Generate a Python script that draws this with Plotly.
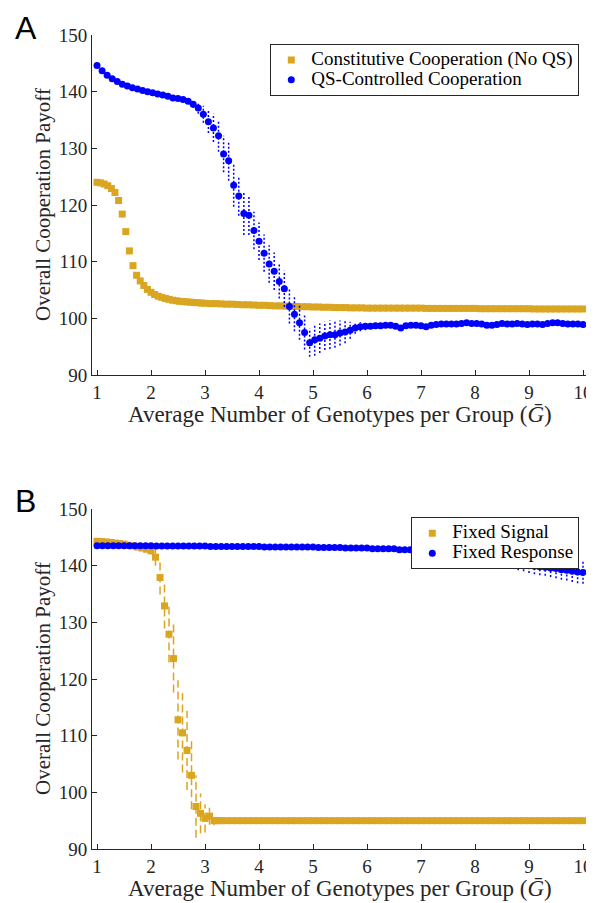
import plotly.graph_objects as go

# ---------------- DATA ----------------
# Panel A: Constitutive Cooperation (No QS)
const_x = [1.000, 1.067, 1.133, 1.200, 1.267, 1.333, 1.400, 1.467, 1.533, 1.600,
           1.667, 1.733, 1.800, 1.867, 1.933, 2.000, 2.067, 2.133, 2.200, 2.267,
           2.333, 2.400, 2.467, 2.533, 2.600, 2.667, 2.733, 2.800, 2.867, 2.933,
           3.000, 3.1, 3.2, 3.3, 3.4, 3.5, 3.6, 3.7, 3.8, 3.9,
           4.0, 4.1, 4.2, 4.3, 4.4, 4.5, 4.6, 4.7, 4.8, 4.9,
           5.0, 5.1, 5.2, 5.3, 5.4, 5.5, 5.6, 5.7, 5.8, 5.9,
           6.0, 6.1, 6.2, 6.3, 6.4, 6.5, 6.6, 6.7, 6.8, 6.9,
           7.0, 7.1, 7.2, 7.3, 7.4, 7.5, 7.6, 7.7, 7.8, 7.9,
           8.0, 8.1, 8.2, 8.3, 8.4, 8.5, 8.6, 8.7, 8.8, 8.9,
           9.0, 9.1, 9.2, 9.3, 9.4, 9.5, 9.6, 9.7, 9.8, 9.9, 10.0]
const_y = [124.0, 123.9, 123.7, 123.4, 122.9, 122.2, 120.8, 118.4, 115.3, 111.9,
           109.3, 107.6, 106.6, 105.8, 105.1, 104.6, 104.2, 103.9, 103.7, 103.5,
           103.35, 103.2, 103.1, 103.0, 102.95, 102.9, 102.85, 102.8, 102.75, 102.7,
           102.65, 102.6, 102.6, 102.55, 102.5, 102.5, 102.45, 102.4, 102.4, 102.35,
           102.3, 102.3, 102.25, 102.2, 102.2, 102.15, 102.1, 102.1, 102.05, 102.05,
           102.0, 102.0, 101.95, 101.95, 101.9, 101.9, 101.9, 101.85, 101.85, 101.85,
           101.8, 101.8, 101.8, 101.8, 101.8, 101.8, 101.8, 101.8, 101.8, 101.8,
           101.8, 101.75, 101.75, 101.75, 101.75, 101.75, 101.75, 101.75, 101.75, 101.75,
           101.75, 101.7, 101.7, 101.7, 101.7, 101.7, 101.7, 101.7, 101.7, 101.7,
           101.7, 101.65, 101.65, 101.65, 101.65, 101.65, 101.65, 101.65, 101.65, 101.65, 101.65]

# Panel A: QS-Controlled Cooperation
qs_x = [1.000, 1.094, 1.188, 1.281, 1.375, 1.469, 1.563, 1.656, 1.750, 1.844,
        1.938, 2.031, 2.125, 2.219, 2.313, 2.406, 2.500, 2.594, 2.688, 2.781,
        2.875, 2.969, 3.063, 3.156, 3.250, 3.344, 3.438, 3.531, 3.625, 3.719,
        3.813, 3.906, 4.000, 4.094, 4.188, 4.281, 4.375, 4.469, 4.563, 4.656,
        4.750, 4.844, 4.938, 5.031, 5.125, 5.219, 5.313, 5.406, 5.500, 5.594,
        5.688, 5.781, 5.875, 5.969, 6.063, 6.156, 6.250, 6.344, 6.438, 6.531,
        6.625, 6.719, 6.813, 6.906, 7.000, 7.094, 7.188, 7.281, 7.375, 7.469,
        7.563, 7.656, 7.750, 7.844, 7.938, 8.031, 8.125, 8.219, 8.313, 8.406,
        8.500, 8.594, 8.688, 8.781, 8.875, 8.969, 9.063, 9.156, 9.250, 9.344,
        9.438, 9.531, 9.625, 9.719, 9.813, 9.906, 10.000]
qs_y = [144.6, 143.7, 142.9, 142.3, 141.8, 141.3, 141.0, 140.7, 140.45, 140.2,
        140.0, 139.8, 139.6, 139.4, 139.2, 138.9, 138.8, 138.6, 138.3, 137.8,
        137.1, 136.0, 134.7, 133.6, 132.2, 129.0, 127.8, 123.5, 121.6, 118.5,
        118.2, 115.5, 113.6, 111.5, 109.6, 108.3, 106.5, 105.2, 102.1, 100.7,
        99.2, 97.5, 95.7, 96.2, 96.5, 96.9, 97.1, 97.1, 97.4, 97.6,
        97.9, 98.3, 98.5, 98.6, 98.6, 98.7, 98.7, 98.8, 98.8, 98.6,
        98.3, 98.7, 98.8, 98.8, 98.7, 98.5, 98.8, 98.9, 99.0, 99.0,
        99.0, 99.0, 99.1, 99.2, 99.1, 99.1, 99.0, 98.8, 98.8, 98.9,
        99.1, 99.0, 99.0, 99.1, 99.0, 98.9, 99.0, 99.0, 98.9, 99.1,
        99.2, 99.2, 99.1, 99.0, 99.0, 99.0, 98.9]
qs_err = [0.2, 0.2, 0.2, 0.2, 0.2, 0.2, 0.2, 0.2, 0.2, 0.2,
          0.2, 0.2, 0.2, 0.2, 0.2, 0.2, 0.2, 0.3, 0.4, 0.7,
          1.0, 1.5, 2.0, 2.5, 2.8, 3.2, 3.5, 3.8, 3.5, 3.8,
          3.5, 3.3, 3.3, 3.3, 3.3, 3.3, 3.0, 3.2, 3.0, 3.0,
          3.0, 3.0, 2.5, 2.8, 2.6, 2.5, 2.5, 2.3, 2.2, 2.0,
          1.5, 1.0, 0.8, 0.7, 0.5, 0.5, 0.5, 0.5, 0.5, 0.5,
          0.5, 0.4, 0.4, 0.4, 0.4, 0.4, 0.4, 0.4, 0.4, 0.4,
          0.3, 0.3, 0.3, 0.3, 0.3, 0.3, 0.3, 0.3, 0.3, 0.3,
          0.3, 0.3, 0.3, 0.3, 0.3, 0.3, 0.3, 0.3, 0.3, 0.3,
          0.3, 0.3, 0.3, 0.3, 0.3, 0.3, 0.3]

# Panel B: Fixed Signal
fs_x = [1.000, 1.083, 1.167, 1.250, 1.333, 1.417, 1.500, 1.583, 1.667, 1.750,
        1.833, 1.917, 2.000, 2.083, 2.167, 2.250, 2.333, 2.417, 2.500, 2.583,
        2.667, 2.750, 2.833, 2.917, 3.000, 3.083, 3.167, 3.25, 3.3, 3.4,
        3.5, 3.6, 3.7, 3.8, 3.9, 4.0, 4.1, 4.2, 4.3, 4.4,
        4.5, 4.6, 4.7, 4.8, 4.9, 5.0, 5.1, 5.2, 5.3, 5.4,
        5.5, 5.6, 5.7, 5.8, 5.9, 6.0, 6.1, 6.2, 6.3, 6.4,
        6.5, 6.6, 6.7, 6.8, 6.9, 7.0, 7.1, 7.2, 7.3, 7.4,
        7.5, 7.6, 7.7, 7.8, 7.9, 8.0, 8.1, 8.2, 8.3, 8.4,
        8.5, 8.6, 8.7, 8.8, 8.9, 9.0, 9.1, 9.2, 9.3, 9.4,
        9.5, 9.6, 9.7, 9.8, 9.9, 10.0]
fs_y = [144.3, 144.25, 144.2, 144.1, 144.0, 143.9, 143.8, 143.6, 143.5, 143.3,
        143.1, 142.9, 142.6, 141.5, 137.9, 132.9, 127.9, 123.6, 112.8, 110.5,
        107.4, 103.0, 97.5, 96.3, 95.4, 95.8, 95.0, 95.0, 95.0, 95.0,
        95.0, 95.0, 95.0, 95.0, 95.0, 95.0, 95.0, 95.0, 95.0, 95.0,
        95.0, 95.0, 95.0, 95.0, 95.0, 95.0, 95.0, 95.0, 95.0, 95.0,
        95.0, 95.0, 95.0, 95.0, 95.0, 95.0, 95.0, 95.0, 95.0, 95.0,
        95.0, 95.0, 95.0, 95.0, 95.0, 95.0, 95.0, 95.0, 95.0, 95.0,
        95.0, 95.0, 95.0, 95.0, 95.0, 95.0, 95.0, 95.0, 95.0, 95.0,
        95.0, 95.0, 95.0, 95.0, 95.0, 95.0, 95.0, 95.0, 95.0, 95.0,
        95.0, 95.0, 95.0, 95.0, 95.0, 95.0]
fs_err = [0.3, 0.3, 0.3, 0.3, 0.3, 0.3, 0.3, 0.3, 0.3, 0.3,
          0.3, 0.3, 0.5, 1.5, 3.0, 4.0, 5.0, 6.0, 7.0, 7.0,
          7.0, 6.0, 5.5, 3.5, 2.5, 1.5, 0.8, 0.2, 0.1, 0.1,
          0.1, 0.1, 0.1, 0.1, 0.1, 0.1, 0.1, 0.1, 0.1, 0.1,
          0.1, 0.1, 0.1, 0.1, 0.1, 0.1, 0.1, 0.1, 0.1, 0.1,
          0.1, 0.1, 0.1, 0.1, 0.1, 0.1, 0.1, 0.1, 0.1, 0.1,
          0.1, 0.1, 0.1, 0.1, 0.1, 0.1, 0.1, 0.1, 0.1, 0.1,
          0.1, 0.1, 0.1, 0.1, 0.1, 0.1, 0.1, 0.1, 0.1, 0.1,
          0.1, 0.1, 0.1, 0.1, 0.1, 0.1, 0.1, 0.1, 0.1, 0.1,
          0.1, 0.1, 0.1, 0.1, 0.1, 0.1]

# Panel B: Fixed Response
fr_x = [1.0, 1.1, 1.2, 1.3, 1.4, 1.5, 1.6, 1.7, 1.8, 1.9,
        2.0, 2.1, 2.2, 2.3, 2.4, 2.5, 2.6, 2.7, 2.8, 2.9,
        3.0, 3.1, 3.2, 3.3, 3.4, 3.5, 3.6, 3.7, 3.8, 3.9,
        4.0, 4.1, 4.2, 4.3, 4.4, 4.5, 4.6, 4.7, 4.8, 4.9,
        5.0, 5.1, 5.2, 5.3, 5.4, 5.5, 5.6, 5.7, 5.8, 5.9,
        6.0, 6.1, 6.2, 6.3, 6.4, 6.5, 6.6, 6.7, 6.8, 6.9,
        7.0, 7.1, 7.2, 7.3, 7.4, 7.5, 7.6, 7.7, 7.8, 7.9,
        8.0, 8.1, 8.2, 8.3, 8.4, 8.5, 8.6, 8.7, 8.8, 8.9,
        9.0, 9.1, 9.2, 9.3, 9.4, 9.5, 9.6, 9.7, 9.8, 9.9, 10.0]
fr_y = [143.5, 143.5, 143.5, 143.5, 143.5, 143.5, 143.5, 143.5, 143.5, 143.5,
        143.5, 143.45, 143.45, 143.45, 143.45, 143.45, 143.45, 143.45, 143.45, 143.45,
        143.45, 143.4, 143.4, 143.4, 143.4, 143.4, 143.4, 143.4, 143.4, 143.4,
        143.4, 143.3, 143.3, 143.3, 143.3, 143.3, 143.3, 143.3, 143.3, 143.3,
        143.3, 143.2, 143.2, 143.2, 143.2, 143.2, 143.1, 143.1, 143.1, 143.1,
        143.1, 143.0, 143.0, 143.0, 143.0, 143.0, 142.8, 142.8, 142.8, 142.8,
        142.8, 142.7, 142.6, 142.5, 142.4, 142.3, 142.2, 142.1, 142.0, 141.9,
        141.8, 141.7, 141.5, 141.4, 141.2, 141.0, 140.9, 140.7, 140.4, 140.2,
        140.0, 139.9, 139.8, 139.7, 139.6, 139.5, 139.3, 139.2, 139.0, 138.9, 138.8]
fr_err = [0.15, 0.15, 0.15, 0.15, 0.15, 0.15, 0.15, 0.15, 0.15, 0.15,
          0.15, 0.15, 0.15, 0.15, 0.15, 0.15, 0.15, 0.15, 0.15, 0.15,
          0.15, 0.15, 0.15, 0.15, 0.15, 0.15, 0.15, 0.15, 0.15, 0.15,
          0.15, 0.15, 0.15, 0.15, 0.15, 0.15, 0.15, 0.15, 0.15, 0.15,
          0.2, 0.2, 0.2, 0.2, 0.2, 0.2, 0.2, 0.2, 0.2, 0.2,
          0.3, 0.3, 0.3, 0.3, 0.3, 0.3, 0.3, 0.3, 0.3, 0.3,
          0.4, 0.4, 0.4, 0.4, 0.4, 0.5, 0.5, 0.5, 0.5, 0.5,
          0.6, 0.7, 0.8, 0.8, 0.9, 1.0, 1.0, 1.1, 1.2, 1.2,
          1.3, 1.4, 1.5, 1.5, 1.6, 1.7, 1.8, 1.8, 1.9, 2.0, 2.0]

x_ticks = [1, 2, 3, 4, 5, 6, 7, 8, 9, 10]
y_ticks = [90, 100, 110, 120, 130, 140, 150]
x_title = "Average Number of Genotypes per Group (<i>\u1E20</i>)"
y_title = "Overall Cooperation Payoff"
names = ["Constitutive Cooperation (No QS)", "QS-Controlled Cooperation",
         "Fixed Signal", "Fixed Response"]

# ---------------- STYLE ----------------
OFF = 8                 # page body margin of the browser
W, H = 594 - OFF, 903 - OFF
ORANGE = "#DAA520"
BLUE = "#0000FF"
AX = "#262626"
SERIF = "Liberation Serif"

def px_x(p):
    return (p - OFF) / W

def px_y(p):
    return 1 - (p - OFF) / H

def err_segments(xs, ys, es):
    ex, ey = [], []
    for x, y, e in zip(xs, ys, es):
        ex += [x, x, None]
        ey += [y - e, y + e, None]
    return ex, ey

def lname(s):
    return '<span style="font-size:19px">' + s + '</span>'

fig = go.Figure()

# Panel A
fig.add_trace(go.Scatter(x=const_x, y=const_y, mode="markers", name=lname(names[0]),
                         marker=dict(symbol="square", size=7, color=ORANGE, line=dict(width=0)),
                         xaxis="x", yaxis="y", legend="legend"))
ex, ey = err_segments(qs_x, qs_y, qs_err)
fig.add_trace(go.Scatter(x=ex, y=ey, mode="lines", line=dict(color=BLUE, width=1.5, dash="2px,2px"),
                         showlegend=False, hoverinfo="skip", xaxis="x", yaxis="y"))
fig.add_trace(go.Scatter(x=qs_x, y=qs_y, mode="markers", name=lname(names[1]),
                         marker=dict(symbol="circle", size=7, color=BLUE, line=dict(width=0)),
                         xaxis="x", yaxis="y", legend="legend"))

# Panel B
ex, ey = err_segments(fs_x, fs_y, fs_err)
fig.add_trace(go.Scatter(x=ex, y=ey, mode="lines", line=dict(color=ORANGE, width=1.5, dash="8px,4px"),
                         showlegend=False, hoverinfo="skip", xaxis="x2", yaxis="y2"))
fig.add_trace(go.Scatter(x=fs_x, y=fs_y, mode="markers", name=lname(names[2]),
                         marker=dict(symbol="square", size=7, color=ORANGE, line=dict(width=0)),
                         xaxis="x2", yaxis="y2", legend="legend2"))
ex, ey = err_segments(fr_x, fr_y, fr_err)
fig.add_trace(go.Scatter(x=ex, y=ey, mode="lines", line=dict(color=BLUE, width=1.5, dash="2px,2px"),
                         showlegend=False, hoverinfo="skip", xaxis="x2", yaxis="y2"))
fig.add_trace(go.Scatter(x=fr_x, y=fr_y, mode="markers", name=lname(names[3]),
                         marker=dict(symbol="circle", size=7, color=BLUE, line=dict(width=0)),
                         xaxis="x2", yaxis="y2", legend="legend2"))

xdom = [px_x(92), px_x(587)]
xr = [0.907, 10.074]
axis_common = dict(showline=True, linecolor=AX, linewidth=1, ticks="inside", ticklen=5,
                   tickwidth=1, tickcolor=AX, showgrid=False, zeroline=False, mirror=False,
                   automargin=False, ticklabeloverflow="allow",
                   tickfont=dict(family=SERIF, size=19, color=AX))

legend_common = dict(bgcolor="white", bordercolor=AX, borderwidth=1,
                     font=dict(family=SERIF, size=13, color="black"),
                     xref="paper", yref="paper", xanchor="right", yanchor="top")

fig.update_layout(
    template="none",
    width=W, height=H, margin=dict(l=0, r=0, t=0, b=0, autoexpand=False),
    paper_bgcolor="white", plot_bgcolor="white",
    xaxis=dict(domain=xdom, range=xr, tickvals=x_ticks, anchor="y", **axis_common),
    yaxis=dict(domain=[px_y(375), px_y(35)], range=[90, 150], tickvals=y_ticks, anchor="x", **axis_common),
    xaxis2=dict(domain=xdom, range=xr, tickvals=x_ticks, anchor="y2", **axis_common),
    yaxis2=dict(domain=[px_y(849), px_y(509)], range=[90, 150], tickvals=y_ticks, anchor="x2", **axis_common),
    legend=dict(x=px_x(579.3), y=px_y(44), **legend_common),
    legend2=dict(x=px_x(579.3), y=px_y(517.3), **legend_common),
    showlegend=True,
)

annos = [
    dict(text=y_title, x=px_x(43), y=px_y(205), textangle=-90, yanchor="middle",
         font=dict(family=SERIF, size=21, color=AX)),
    dict(text=y_title, x=px_x(43), y=px_y(679), textangle=-90, yanchor="middle",
         font=dict(family=SERIF, size=21, color=AX)),
    dict(text=x_title, x=px_x(339.5), y=px_y(414), yanchor="middle",
         font=dict(family=SERIF, size=23, color=AX)),
    dict(text=x_title, x=px_x(339.5), y=px_y(888), yanchor="middle",
         font=dict(family=SERIF, size=23, color=AX)),
    dict(text="A", x=px_x(25.5), y=px_y(8), yanchor="top",
         font=dict(family="Liberation Sans", size=32, color="black")),
    dict(text="B", x=px_x(25.5), y=px_y(481), yanchor="top",
         font=dict(family="Liberation Sans", size=32, color="black")),
]
for a in annos:
    fig.add_annotation(xref="paper", yref="paper", showarrow=False, xanchor="center", **a)

fig.write_html("out.html")
